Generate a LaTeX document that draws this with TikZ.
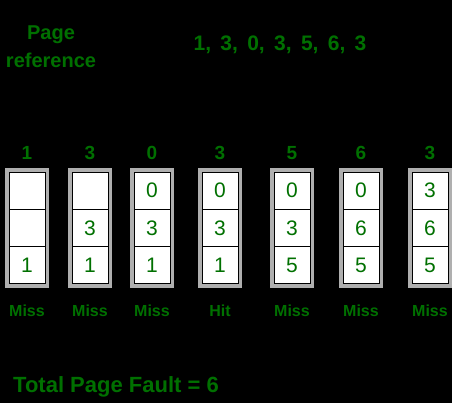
\documentclass[tikz,border=0pt]{standalone}
\usepackage{fontspec}
\setmainfont{Liberation Sans}
\usetikzlibrary{positioning}
\definecolor{pagegreen}{RGB}{0,112,0}
\definecolor{framegray}{RGB}{175,175,175}
\tikzset{
  boldtext/.style={text=pagegreen, font=\bfseries\fontsize{#1}{#1}\selectfont},
  framebox/.style={fill=framegray, minimum width=44pt, minimum height=120pt, inner sep=0pt},
  cellbox/.style={draw=black, line width=1pt, fill=white, minimum width=36pt, minimum height=37.3pt,
    inner sep=0pt, text=pagegreen, font=\fontsize{21}{21}\selectfont}
}
\begin{document}
\begin{tikzpicture}[x=1pt,y=-1pt]
\fill[black] (0,0) rectangle (452,403);
\node[boldtext=20, align=center] (pageref) at (51,47) {Page\\[8pt]reference};
\node[boldtext=21] (refseq) at (280,45) {1,\, 3,\, 0,\, 3,\, 5,\, 6,\, 3};
% one column per page reference
\foreach \n/\cx/\ref/\top/\mid/\bot/\res in {1/27/1/{}/{}/1/Miss, 2/90/3/{}/3/1/Miss,
    3/152/0/0/3/1/Miss, 4/220/3/0/3/1/Hit, 5/292/5/0/3/5/Miss,
    6/361/6/0/6/5/Miss, 7/430/3/3/6/5/Miss} {
  \node[boldtext=19] (hd\n) at (\cx,153) {\ref};
  \node[framebox] (fr\n) at (\cx,228) {};
  \node[cellbox] (top\n) at (\cx,190.67) {\top};
  \node[cellbox] (mid\n) at (\cx,228) {\mid};
  \node[cellbox] (bot\n) at (\cx,265.33) {\bot};
  \node[boldtext=16] (res\n) at (\cx,311) {\res};
}
\node[boldtext=22] (total) at (116,387) {Total Page Fault = 6};
\end{tikzpicture}
\end{document}
